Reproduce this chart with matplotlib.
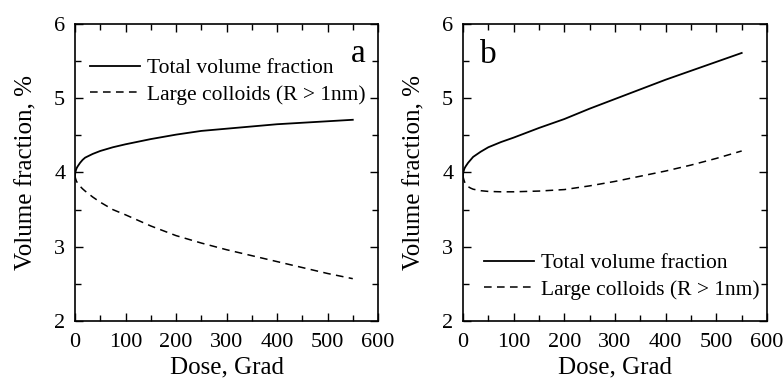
import matplotlib
matplotlib.use("Agg")
import matplotlib.pyplot as plt
from matplotlib.ticker import MultipleLocator

plt.rcParams["font.family"] = ["Liberation Serif", "DejaVu Serif"]

# dose points (Grad)
dose = [0, 0.5, 1, 2, 3, 5, 7, 10, 15, 20, 35, 50, 75, 100, 150, 200, 250, 300, 350, 400, 450, 500, 550]

# panel a
total_a = [3.96, 3.995, 4.01, 4.035, 4.055, 4.08, 4.10, 4.13, 4.17, 4.20, 4.25, 4.29, 4.34, 4.38,
           4.45, 4.51, 4.56, 4.59, 4.62, 4.65, 4.67, 4.69, 4.71]
large_a = [3.96, 3.935, 3.92, 3.90, 3.88, 3.86, 3.84, 3.815, 3.78, 3.75, 3.67, 3.60, 3.50, 3.43,
           3.28, 3.15, 3.05, 2.96, 2.88, 2.80, 2.72, 2.64, 2.57]

# panel b
total_b = [3.96, 3.995, 4.01, 4.035, 4.055, 4.08, 4.10, 4.13, 4.17, 4.21, 4.28, 4.34, 4.41, 4.47,
           4.60, 4.72, 4.86, 4.99, 5.12, 5.25, 5.37, 5.49, 5.61]
large_b = [3.96, 3.935, 3.92, 3.895, 3.875, 3.85, 3.83, 3.81, 3.79, 3.775, 3.755, 3.745, 3.74, 3.74,
           3.75, 3.77, 3.82, 3.88, 3.95, 4.02, 4.10, 4.19, 4.29]

panels = [("a", total_a, large_a), ("b", total_b, large_b)]
positions = [[0.0958, 0.1575, 0.387, 0.7795], [0.5913, 0.1575, 0.3883, 0.7795]]

fig = plt.figure(figsize=(7.83, 3.81), dpi=100)

for (label, tot, large), pos in zip(panels, positions):
    ax = fig.add_axes(pos)
    ax.plot(dose, tot, color="black", lw=1.3, label="Total volume fraction")
    ln, = ax.plot(dose, large, color="black", lw=1.1, label="Large colloids (R > 1nm)")
    ln.set_dashes((5, 3.5))

    ax.set_xlim(0, 600)
    ax.set_ylim(2, 6)
    ax.xaxis.set_major_locator(MultipleLocator(100))
    ax.xaxis.set_minor_locator(MultipleLocator(50))
    ax.yaxis.set_major_locator(MultipleLocator(1))
    ax.yaxis.set_minor_locator(MultipleLocator(0.5))
    ax.tick_params(which="both", direction="in", top=True, right=True, labelsize=16, width=1.0)
    ax.tick_params(which="major", length=6)
    ax.tick_params(axis="x", which="major", pad=9)
    ax.tick_params(axis="y", which="major", pad=7)
    ax.tick_params(which="minor", length=4)
    for s in ax.spines.values():
        s.set_linewidth(1.2)
    ax.set_xlabel("Dose, Grad", fontsize=18, labelpad=3)
    ax.set_ylabel("Volume fraction, %", fontsize=18, labelpad=12)

    if label == "a":
        ax.text(0.935, 0.9, "a", transform=ax.transAxes, fontsize=24, ha="center", va="center")
        loc = "upper left"
        anchor = (0.0, 0.935)
    else:
        ax.text(0.085, 0.895, "b", transform=ax.transAxes, fontsize=24, ha="center", va="center")
        loc = "lower left"
        anchor = (0.02, 0.02)
    ax.legend(loc=loc, bbox_to_anchor=anchor, frameon=False, fontsize=15.5,
              handlelength=2.3, handletextpad=0.35, labelspacing=0.3, borderaxespad=0.3)

fig.savefig("out.png", dpi=100)
